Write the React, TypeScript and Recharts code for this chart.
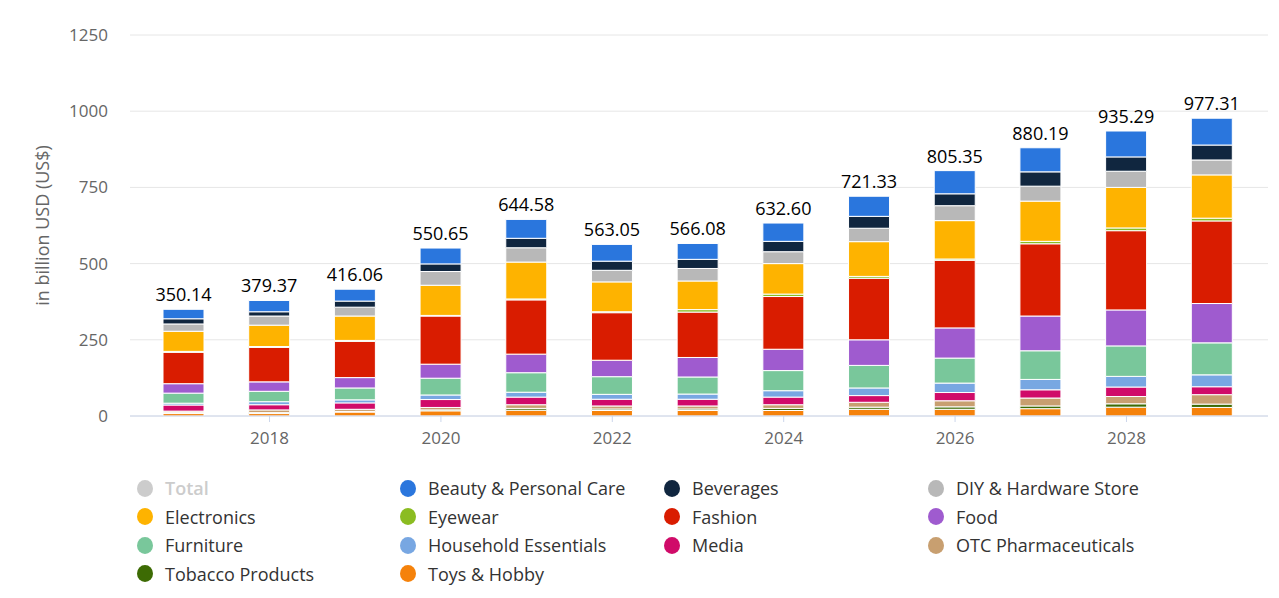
import { BarChart, Bar, XAxis, YAxis, CartesianGrid, LabelList } from 'recharts';

const years = ['2017', '2018', '2019', '2020', '2021', '2022', '2023', '2024', '2025', '2026', '2027', '2028', '2029'];
const totals = [350.14, 379.37, 416.06, 550.65, 644.58, 563.05, 566.08, 632.6, 721.33, 805.35, 880.19, 935.29, 977.31];

const toys = [8, 8, 13, 17, 19, 18, 18, 18, 22, 22, 24, 29, 28];
const tobacco = [3, 3, 2, 3, 6, 5, 5, 7, 7, 8, 9, 11, 11];
const otc = [5, 9, 7, 8, 12, 10, 10, 12, 16, 20, 26, 24, 31];
const media = [20, 17, 21, 26, 25, 22, 22, 25, 22, 27, 27, 31, 26];
const household = [6, 10, 10, 15, 16, 16, 17, 21, 25, 31, 34, 35, 39];
const furniture = [33, 34, 39, 55, 64, 58, 56, 66, 74, 82, 94, 100, 105];
const food = [31, 31, 34, 46, 61, 54, 64, 70, 84, 99, 114, 118, 129];
const fashion = [103, 113, 119, 158, 178, 156, 149, 173, 202, 222, 237, 260, 271];
const eyewear = [3, 3, 3, 2, 3, 3, 8, 8, 6, 4, 8, 9, 9];
const electronics = [66, 70, 80, 99, 121, 98, 94, 100, 114, 126, 132, 133, 142];
const diy = [24, 30, 29, 45, 47, 38, 41, 39, 44, 49, 49, 53, 49];
const beverages = [17, 14, 20, 25, 31, 30, 30, 34, 39, 39, 47, 47, 49];
const beauty = [31, 37, 39, 52, 62, 55, 52, 60, 66, 76, 79, 85, 88];

const yTicks = [0, 250, 500, 750, 1000, 1250];
const xTicks = ['2018', '2020', '2022', '2024', '2026', '2028'];

// bottom to top
const series = [
  { key: 'toys', name: 'Toys & Hobby', color: '#f5820b', values: toys },
  { key: 'tobacco', name: 'Tobacco Products', color: '#3d6b04', values: tobacco },
  { key: 'otc', name: 'OTC Pharmaceuticals', color: '#c89f70', values: otc },
  { key: 'media', name: 'Media', color: '#d00b69', values: media },
  { key: 'household', name: 'Household Essentials', color: '#78a7e2', values: household },
  { key: 'furniture', name: 'Furniture', color: '#79c79b', values: furniture },
  { key: 'food', name: 'Food', color: '#9f5bcf', values: food },
  { key: 'fashion', name: 'Fashion', color: '#d91c00', values: fashion },
  { key: 'eyewear', name: 'Eyewear', color: '#8bbc21', values: eyewear },
  { key: 'electronics', name: 'Electronics', color: '#feb300', values: electronics },
  { key: 'diy', name: 'DIY & Hardware Store', color: '#b8b8b8', values: diy },
  { key: 'beverages', name: 'Beverages', color: '#10263f', values: beverages },
  { key: 'beauty', name: 'Beauty & Personal Care', color: '#2a76dd', values: beauty },
];

const legendItems = [
  { name: 'Total', color: '#cccccc', off: true },
  ...[...series].sort((a, b) => a.name.localeCompare(b.name)).map((s) => ({ name: s.name, color: s.color, off: false })),
];

const data = years.map((year, i) => {
  const row: Record<string, number | string> = { year, total: totals[i] };
  series.forEach((s) => {
    row[s.key] = s.values[i];
  });
  return row;
});

const legendCols = [137, 400, 664, 928];
const font = '"Open Sans", "Noto Sans", sans-serif';

export default function App() {
  return (
    <div style={{ position: 'absolute', left: 0, top: 0, width: 1279, height: 598, background: '#fff', fontFamily: font }}>
      <BarChart
        width={1279}
        height={460}
        data={data}
        margin={{ top: 35, right: 11, bottom: 0, left: 0 }}
        barSize={41}
      >
        <CartesianGrid vertical={false} stroke="#e6e6e6" />
        <XAxis
          dataKey="year"
          ticks={xTicks}
          interval={0}
          height={44}
          padding={{ left: 11, right: 13 }}
          tick={{ fill: '#666', fontSize: 17, fontFamily: font }}
          tickSize={6}
          tickMargin={10}
          axisLine={{ stroke: '#ccd6eb' }}
          tickLine={{ stroke: '#ccd6eb' }}
        />
        <YAxis
          domain={[0, 1250]}
          ticks={yTicks}
          width={130}
          tickSize={0}
          tickMargin={22}
          axisLine={false}
          tickLine={false}
          tick={{ fill: '#666', fontSize: 17, fontFamily: font }}
          label={{
            value: 'in billion USD (US$)',
            angle: -90,
            position: 'insideLeft',
            offset: 43,
            style: { textAnchor: 'middle', fill: '#666', fontSize: 18, fontFamily: font },
          }}
        />
        {series.map((s, idx) => (
          <Bar
            key={s.key}
            dataKey={s.key}
            name={s.name}
            stackId="a"
            fill={s.color}
            stroke="#fff"
            strokeWidth={1}
            isAnimationActive={false}
          >
            {idx === series.length - 1 && (
              <LabelList
                dataKey="total"
                position="top"
                offset={8}
                formatter={(v: any) => Number(v).toFixed(2)}
                style={{ fill: '#000', fontSize: 18, fontWeight: 500, fontFamily: font }}
              />
            )}
          </Bar>
        ))}
      </BarChart>
      {legendItems.map((item, i) => {
        const col = i % 4;
        const row = Math.floor(i / 4);
        return (
          <div
            key={item.name}
            style={{
              position: 'absolute',
              left: legendCols[col],
              top: 488 + row * 28.5 - 12,
              height: 24,
              display: 'flex',
              alignItems: 'center',
              fontSize: 18,
              color: item.off ? '#cccccc' : '#333',
              fontWeight: item.off ? 600 : 400,
              whiteSpace: 'nowrap',
            }}
          >
            <span
              style={{
                display: 'inline-block',
                width: 16,
                height: 17,
                borderRadius: '50%',
                background: item.color,
                marginRight: 12,
              }}
            />
            {item.name}
          </div>
        );
      })}
    </div>
  );
}
